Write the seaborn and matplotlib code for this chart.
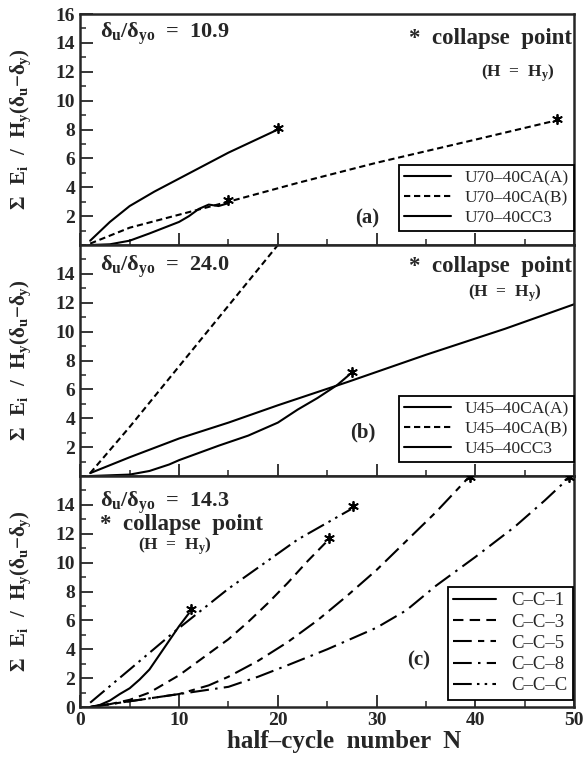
import numpy as np
import pandas as pd
import matplotlib
matplotlib.use('Agg')
import matplotlib.pyplot as plt
import seaborn as sns
from matplotlib.ticker import MultipleLocator

# ── data ─────────────────────────────────────────────────────
# panel (a)  delta_u/delta_yo = 10.9
a_CA_A_N = [1, 3, 5, 7.5, 10, 12.5, 15, 17.5, 20]
a_CA_A_E = [0.3, 1.6, 2.7, 3.7, 4.6, 5.5, 6.4, 7.2, 8.0]
a_CA_B_N = [1, 5, 10, 15, 22, 30, 40, 48]
a_CA_B_E = [0.1, 1.2, 2.1, 3.0, 4.3, 5.7, 7.3, 8.6]
a_CC3_N = [1, 3, 5, 7, 10, 11, 12, 13, 14, 15]
a_CC3_E = [0.0, 0.05, 0.3, 0.8, 1.6, 2.0, 2.5, 2.8, 2.7, 2.9]
a_star_N = [20, 48.3, 15]
a_star_E = [8.1, 8.7, 3.1]

# panel (b)  delta_u/delta_yo = 24.0
b_CA_A_N = [1, 5, 10, 15, 20, 27, 35, 43, 50]
b_CA_A_E = [0.2, 1.3, 2.6, 3.7, 4.9, 6.5, 8.4, 10.2, 11.9]
b_CA_B_N = [1, 5, 10, 15, 20]
b_CA_B_E = [0.2, 3.4, 7.6, 11.8, 16.0]
b_CC3_N = [1, 5, 7, 9, 10, 12, 14, 17, 20, 22, 24, 26, 27.2]
b_CC3_E = [0.0, 0.1, 0.35, 0.8, 1.1, 1.6, 2.1, 2.8, 3.7, 4.6, 5.4, 6.3, 7.0]
b_star_N = [27.5]
b_star_E = [7.2]

# panel (c)  delta_u/delta_yo = 14.3
c_1_N = [1, 2, 3, 4, 5, 6, 7, 8, 9, 10, 11]
c_1_E = [0.0, 0.15, 0.45, 0.9, 1.3, 1.9, 2.6, 3.6, 4.6, 5.6, 6.5]
c_3_N = [1, 3, 5, 7, 10, 12, 15, 17, 19, 21, 23, 25]
c_3_E = [0.0, 0.2, 0.5, 1.0, 2.2, 3.2, 4.7, 5.9, 7.2, 8.6, 10.1, 11.5]
c_5_N = [1, 5, 10, 13, 15, 18, 21, 24, 27, 30, 33, 36, 39.3]
c_5_E = [0.0, 0.4, 0.9, 1.5, 2.1, 3.2, 4.5, 6.0, 7.7, 9.5, 11.5, 13.5, 15.9]
c_8_N = [1, 5, 10, 15, 18, 21, 25, 30, 33, 36, 40, 44, 47, 49.5]
c_8_E = [0.0, 0.4, 0.9, 1.4, 2.1, 2.9, 4.0, 5.5, 6.7, 8.4, 10.4, 12.5, 14.3, 15.9]
c_C_N = [1, 5, 9.5, 15, 22, 27.4]
c_C_E = [0.3, 2.6, 5.2, 8.2, 11.6, 13.7]
c_star_N = [11.2, 25.2, 27.6, 39.4, 49.5]
c_star_E = [6.8, 11.7, 13.9, 15.9, 15.9]

ratios = ['10.9', '24.0', '14.3']
panel_tags = ['(a)', '(b)', '(c)']

# ── style ────────────────────────────────────────────────────
sns.set_style('ticks')
plt.rcParams['font.family'] = ['Liberation Serif', 'DejaVu Serif']
plt.rcParams['mathtext.fontset'] = 'custom'
plt.rcParams['mathtext.rm'] = 'Liberation Serif:bold'
plt.rcParams['mathtext.it'] = 'Liberation Serif:bold'
plt.rcParams['mathtext.bf'] = 'Liberation Serif:bold'

SOLID = '-'
FINE_DASH = (0, (3, 1.8))
C3 = (0, (5, 3))
C5 = (0, (9, 3, 3, 3))
C8 = (0, (9, 3, 1.2, 3))
CC = (0, (9, 2.5, 1.2, 2.5, 1.2, 2.5))

panels = [
    [('U70\u201340CA(A)', a_CA_A_N, a_CA_A_E, SOLID),
     ('U70\u201340CA(B)', a_CA_B_N, a_CA_B_E, FINE_DASH),
     ('U70\u201340CC3', a_CC3_N, a_CC3_E, SOLID)],
    [('U45\u201340CA(A)', b_CA_A_N, b_CA_A_E, SOLID),
     ('U45\u201340CA(B)', b_CA_B_N, b_CA_B_E, FINE_DASH),
     ('U45\u201340CC3', b_CC3_N, b_CC3_E, SOLID)],
    [('C\u2013C\u20131', c_1_N, c_1_E, SOLID),
     ('C\u2013C\u20133', c_3_N, c_3_E, C3),
     ('C\u2013C\u20135', c_5_N, c_5_E, C5),
     ('C\u2013C\u20138', c_8_N, c_8_E, C8),
     ('C\u2013C\u2013C', c_C_N, c_C_E, CC)],
]
stars = [(a_star_N, a_star_E), (b_star_N, b_star_E), (c_star_N, c_star_E)]

fig = plt.figure(figsize=(5.86, 7.57), dpi=100)
left, width = 0.137, 0.843
bottom, top = 0.066, 0.9815
h = (top - bottom) / 3
axes = [fig.add_axes([left, top - (i + 1) * h, width, h]) for i in range(3)]

ylabel = r'$\Sigma\ \ E_i\ \ /\ \ H_y(\delta_u{-}\delta_y)$'

for i, ax in enumerate(axes):
    for name, N, E, ls in panels[i]:
        df = pd.DataFrame({'N': N, 'E': E})
        sns.lineplot(data=df, x='N', y='E', ax=ax, color='black', lw=1.5,
                     linestyle=ls, sort=False, estimator=None, label=name)
    sN, sE = stars[i]
    sns.scatterplot(x=sN, y=sE, ax=ax, marker=(6, 2, 0), s=45,
                    color='black', linewidth=1.3, zorder=5, legend=False)

    ax.set_xlim(0, 50)
    ax.set_ylim(0, 16)
    ax.xaxis.set_major_locator(MultipleLocator(10))
    ax.xaxis.set_minor_locator(MultipleLocator(5))
    if i == 0:
        ax.set_yticks([2, 4, 6, 8, 10, 12, 14, 16])
    elif i == 1:
        ax.set_yticks([2, 4, 6, 8, 10, 12, 14])
    else:
        ax.set_yticks([0, 2, 4, 6, 8, 10, 12, 14])
    ax.yaxis.set_minor_locator(MultipleLocator(1))
    ax.tick_params(which='major', direction='in', length=9, width=1.3,
                   labelsize=14)
    ax.tick_params(which='minor', direction='in', length=4.5, width=1.1)
    for lab in ax.get_xticklabels() + ax.get_yticklabels():
        lab.set_fontweight('bold')
    for sp in ax.spines.values():
        sp.set_visible(True)
        sp.set_linewidth(1.8)
    ax.set_ylabel(ylabel, fontsize=15)
    ax.yaxis.set_label_coords(-0.095, 0.5)
    ax.set_xlabel('')
    if i < 2:
        ax.tick_params(labelbottom=False)

    if i < 2:
        leg = ax.legend(loc='lower right', bbox_to_anchor=(1.0, 0.06),
                        borderaxespad=0, fancybox=False, edgecolor='black',
                        framealpha=1, handlelength=2.7, handletextpad=0.8,
                        labelspacing=0.22, borderpad=0.3, fontsize=12.5)
    else:
        leg = ax.legend(loc='lower right', bbox_to_anchor=(0.998, 0.03),
                        borderaxespad=0, fancybox=False, edgecolor='black',
                        framealpha=1, handlelength=2.3, handletextpad=0.8,
                        labelspacing=0.22, borderpad=0.3, fontsize=13.5)
    leg.get_frame().set_linewidth(1.3)

    ratio = r'$\delta_u/\delta_{yo}$  =  ' + ratios[i]
    if i < 2:
        ax.text(0.04, 0.915 if i == 0 else 0.905, ratio, transform=ax.transAxes,
                fontsize=16, fontweight='bold', va='center')
        ax.text(0.995, 0.895 if i == 0 else 0.905, '*  collapse  point',
                transform=ax.transAxes, fontsize=16.5, fontweight='bold',
                ha='right', va='center')
        ax.text(0.885 if i == 0 else 0.86, 0.745 if i == 0 else 0.79,
                r'(H  =  $H_y$)', transform=ax.transAxes, fontsize=12.5,
                fontweight='bold', ha='center', va='center')
        ax.text(0.58 if i == 0 else 0.572, 0.117 if i == 0 else 0.19,
                panel_tags[i], transform=ax.transAxes, fontsize=15,
                fontweight='bold', ha='center', va='center')
    else:
        ax.text(0.04, 0.883, ratio, transform=ax.transAxes,
                fontsize=16, fontweight='bold', va='center')
        ax.text(0.04, 0.79, '*  collapse  point', transform=ax.transAxes,
                fontsize=16.5, fontweight='bold', va='center')
        ax.text(0.192, 0.697, r'(H  =  $H_y$)', transform=ax.transAxes,
                fontsize=12.5, fontweight='bold', ha='center', va='center')
        ax.text(0.684, 0.203, panel_tags[i], transform=ax.transAxes,
                fontsize=15, fontweight='bold', ha='center', va='center')

axes[2].set_xlabel('half\u2013cycle  number  N', fontsize=18,
                   fontweight='bold', labelpad=1)
axes[2].xaxis.set_label_coords(0.535, -0.1)

fig.savefig('out.png', dpi=100)
plt.close(fig)
